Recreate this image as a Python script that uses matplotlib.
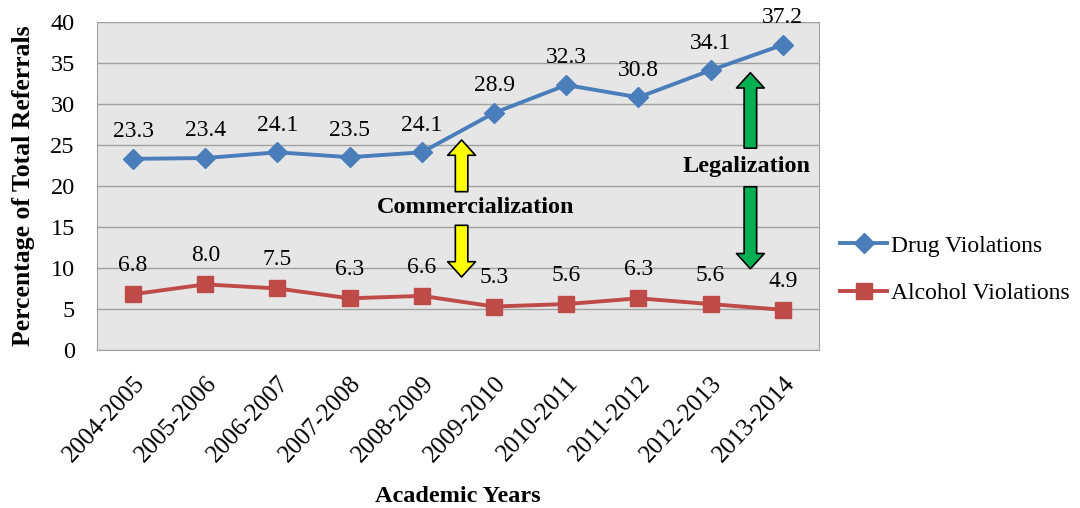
import matplotlib
matplotlib.use("Agg")
import matplotlib.pyplot as plt

years = ["2004-2005", "2005-2006", "2006-2007", "2007-2008", "2008-2009",
         "2009-2010", "2010-2011", "2011-2012", "2012-2013", "2013-2014"]
drug = [23.3, 23.4, 24.1, 23.5, 24.1, 28.9, 32.3, 30.8, 34.1, 37.2]
alcohol = [6.8, 8.0, 7.5, 6.3, 6.6, 5.3, 5.6, 6.3, 5.6, 4.9]
yticks = [0, 5, 10, 15, 20, 25, 30, 35, 40]

plt.rcParams['font.family'] = ['Liberation Serif', 'DejaVu Serif']

fig = plt.figure(figsize=(10.8, 5.08), dpi=100)
ax = fig.add_axes([0.0898, 0.311, 0.6685, 0.646])
ax.set_facecolor('#E6E6E6')
x = list(range(len(years)))

ax.plot(x, drug, color='#4A7EBB', lw=2.8, marker='D', ms=10, label='Drug Violations', zorder=3)
ax.plot(x, alcohol, color='#BE4B48', lw=2.8, marker='s', ms=11.5, label='Alcohol Violations', zorder=3)

for xi, v in zip(x, drug):
    ax.annotate(f"{v:.1f}", (xi, v), xytext=(0, 12), textcoords='offset points',
                ha='center', va='bottom', fontsize=17)
for xi, v in zip(x, alcohol):
    ax.annotate(f"{v:.1f}", (xi, v), xytext=(0, 13), textcoords='offset points',
                ha='center', va='bottom', fontsize=17)

ax.set_xlim(-0.5, len(years) - 0.5)
ax.set_ylim(0, 40)
ax.set_yticks(yticks)
ax.set_yticklabels([str(t) for t in yticks], fontsize=17.5)
ax.yaxis.grid(True, color='#A0A0A0', lw=1)
ax.set_axisbelow(True)
ax.set_xticks(x)
ax.set_xticklabels(years, rotation=47, ha='right', rotation_mode='anchor', fontsize=18)
ax.tick_params(axis='y', length=0, pad=16)
ax.tick_params(axis='x', length=0, pad=16)
for s in ax.spines.values():
    s.set_color('#A0A0A0')

ax.set_ylabel('Percentage of Total Referrals', fontsize=18.5, fontweight='bold', labelpad=11)
ax.set_xlabel('Academic Years', fontsize=17.5, fontweight='bold', labelpad=14)

style = 'simple,head_width=20,head_length=11,tail_width=9'

def arrow(xp, y0, y1, color):
    ax.annotate('', xy=(xp, y1), xytext=(xp, y0),
                arrowprops=dict(arrowstyle=style, fc=color, ec='black', lw=1.2,
                                mutation_scale=1, shrinkA=0, shrinkB=0), zorder=4)

arrow(4.55, 19.3, 25.6, '#FFFF00')
arrow(4.55, 15.2, 8.9, '#FFFF00')
ax.text(4.75, 17.4, 'Commercialization', ha='center', va='center', fontsize=17.5, fontweight='bold')
arrow(8.55, 24.6, 33.8, '#00B050')
arrow(8.55, 19.9, 9.9, '#00B050')
ax.text(8.5, 22.4, 'Legalization', ha='center', va='center', fontsize=17.5, fontweight='bold')

ax.legend(loc='center left', bbox_to_anchor=(1.0, 0.245), frameon=False, fontsize=17,
          labelspacing=1.1, handlelength=2.0, handletextpad=0.15)

fig.savefig('out.png', dpi=100)
